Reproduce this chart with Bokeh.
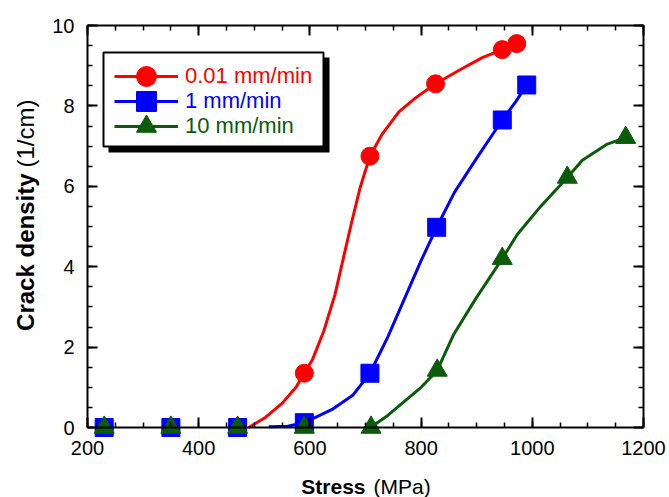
import math

from bokeh.plotting import figure
from bokeh.models import (Range1d, LinearAxis, FixedTicker, CustomJSTickFormatter,
                          Label, Legend, LegendItem, BoxAnnotation)
from bokeh.embed import file_html
from bokeh.resources import INLINE

# measured crack densities (1/cm) against applied stress (MPa)
red_x = [230, 350, 470, 590, 708, 826, 946, 972]
red_y = [0, 0, 0, 1.35, 6.75, 8.55, 9.4, 9.55]
blue_x = [230, 350, 470, 590, 708, 828, 946, 990]
blue_y = [0, 0, 0, 0.12, 1.35, 4.98, 7.65, 8.52]
green_x = [230, 350, 470, 590, 710, 829, 946, 1063, 1168]
green_y = [0, 0, 0, 0, 0, 1.42, 4.2, 6.22, 7.21]

# fitted trend curves through each data set
red_fit_x = [490, 520, 550, 575, 590, 605, 625, 645, 660, 675, 690, 708,
             730, 760, 790, 826, 870, 910, 946, 972]
red_fit_y = [0.0, 0.25, 0.6, 1.0, 1.35, 1.7, 2.4, 3.3, 4.2, 5.1, 5.95, 6.75,
             7.3, 7.85, 8.2, 8.55, 8.9, 9.2, 9.4, 9.55]
blue_fit_x = [526, 560, 590, 610, 640, 677, 708, 740, 770, 800, 828, 860,
              900, 946, 970, 990]
blue_fit_y = [0.02, 0.03, 0.12, 0.25, 0.45, 0.8, 1.35, 2.25, 3.2, 4.15, 4.98,
              5.85, 6.7, 7.65, 8.1, 8.52]
green_fit_x = [709, 740, 770, 800, 829, 858, 898, 946, 973, 1015, 1063, 1090,
               1135, 1168]
green_fit_y = [0.0, 0.3, 0.65, 1.0, 1.42, 2.3, 3.2, 4.2, 4.8, 5.5, 6.22, 6.65,
               7.05, 7.21]

series_names = ["0.01 mm/min", "1 mm/min", "10 mm/min"]
x_ticks = [200, 400, 600, 800, 1000, 1200]
y_ticks = [0, 2, 4, 6, 8, 10]

RED, BLUE, GREEN = "#ff0000", "#0000ff", "#0a5c0a"
FONT = "Liberation Sans"

W, H = 669, 497
# pixel box of the axes inside the canvas
BOX_L, BOX_R, BOX_T, BOX_B = 87, 643, 25, 427
X0, X1, Y0, Y1 = 200, 1200, 0, 10
kx = (BOX_R - BOX_L) / (X1 - X0)
ky = (BOX_B - BOX_T) / (Y1 - Y0)

# the drawing frame spans the whole canvas so markers on the axes and all
# axis texts stay visible; the axes themselves sit at fixed data locations
p = figure(width=W, height=H,
           x_range=Range1d(X0 - BOX_L / kx, X1 + (W - BOX_R) / kx),
           y_range=Range1d(Y0 - (H - BOX_B) / ky, Y1 + BOX_T / ky),
           output_backend="svg", toolbar_location=None,
           x_axis_type=None, y_axis_type=None,
           min_border=0)
p.title.visible = False
p.outline_line_color = None
p.grid.visible = False
p.background_fill_color = "white"
p.border_fill_color = "white"

xt = FixedTicker(ticks=x_ticks, minor_ticks=list(range(200, 1201, 50)))
yt = FixedTicker(ticks=y_ticks, minor_ticks=[i * 0.5 for i in range(21)])


def style(ax, labels=True):
    ax.axis_line_width = 2
    ax.axis_line_color = "black"
    ax.major_tick_in = 10
    ax.major_tick_out = 0
    ax.minor_tick_in = 5
    ax.minor_tick_out = 0
    ax.major_tick_line_width = 2
    ax.minor_tick_line_width = 1.5
    ax.major_label_text_font = FONT
    ax.major_label_text_font_size = "20px"
    ax.major_label_text_color = "black"
    if not labels:
        ax.formatter = CustomJSTickFormatter(code="return ''")


bottom = LinearAxis(ticker=xt, fixed_location=Y0, bounds=(X0, X1))
style(bottom)
bottom.major_label_standoff = 13
top = LinearAxis(ticker=xt, fixed_location=Y1, bounds=(X0, X1))
style(top, labels=False)
left = LinearAxis(ticker=yt, fixed_location=X0, bounds=(Y0, Y1))
style(left)
left.major_label_standoff = 13
right = LinearAxis(ticker=yt, fixed_location=X1, bounds=(Y0, Y1))
style(right, labels=False)
p.add_layout(bottom, "below")
p.add_layout(top, "above")
p.add_layout(left, "left")
p.add_layout(right, "right")

# curves and markers
lr = p.line(red_fit_x, red_fit_y, line_color=RED, line_width=3, line_join="round")
sr = p.scatter(red_x, red_y, marker="circle", size=18, fill_color=RED, line_color=RED)
lb = p.line(blue_fit_x, blue_fit_y, line_color=BLUE, line_width=3, line_join="round")
sb = p.scatter(blue_x, blue_y, marker="square", size=18, fill_color=BLUE, line_color=BLUE)
lg = p.line(green_fit_x, green_fit_y, line_color=GREEN, line_width=3, line_join="round")
sg = p.scatter(green_x, green_y, marker="triangle", size=20, fill_color=GREEN, line_color=GREEN)


def sy(canvas_y):
    # screen units count upward from the bottom of the frame
    return H - canvas_y


# legend frame with drop shadow
def box(l, r, t, b, **kw):
    p.add_layout(BoxAnnotation(left=l, right=r, top=sy(t), bottom=sy(b),
                               left_units="screen", right_units="screen",
                               top_units="screen", bottom_units="screen",
                               fill_alpha=1, level="overlay", **kw))


box(108, 329, 57, 152, fill_color="black", line_color=None)
box(103, 323, 52, 146, fill_color="white", line_color="black", line_width=2, line_alpha=1)

rows = [(series_names[0], [lr, sr], RED, 76),
        (series_names[1], [lb, sb], BLUE, 101),
        (series_names[2], [lg, sg], GREEN, 126)]
for name, rends, col, cy in rows:
    lgd = Legend(items=[LegendItem(label=name, renderers=rends)],
                 location=(114, sy(cy) - 25), orientation="vertical",
                 glyph_width=64, glyph_height=50, label_height=50,
                 label_standoff=7, padding=0, margin=0, spacing=0,
                 background_fill_alpha=0, border_line_color=None,
                 label_text_font=FONT, label_text_font_size="22px",
                 label_text_color=col)
    p.add_layout(lgd, "center")


# axis titles: bold quantity followed by regular-weight unit
def title(text, x, y, style_, align, angle=0.0, size="21px"):
    p.add_layout(Label(x=x, y=sy(y), x_units="screen", y_units="screen", text=text,
                       text_font=FONT, text_font_size=size, text_font_style=style_,
                       text_align=align, text_baseline="middle", angle=angle,
                       text_color="black"))


title("Stress", 365, 486, "bold", "right")
title("(MPa)", 373, 486, "normal", "left")
title("Crack density", 25, 173, "bold", "right", math.pi / 2, "24px")
title("(1/cm)", 25, 167, "normal", "left", math.pi / 2, "24px")

open("out.html", "w").write(file_html(p, INLINE))
